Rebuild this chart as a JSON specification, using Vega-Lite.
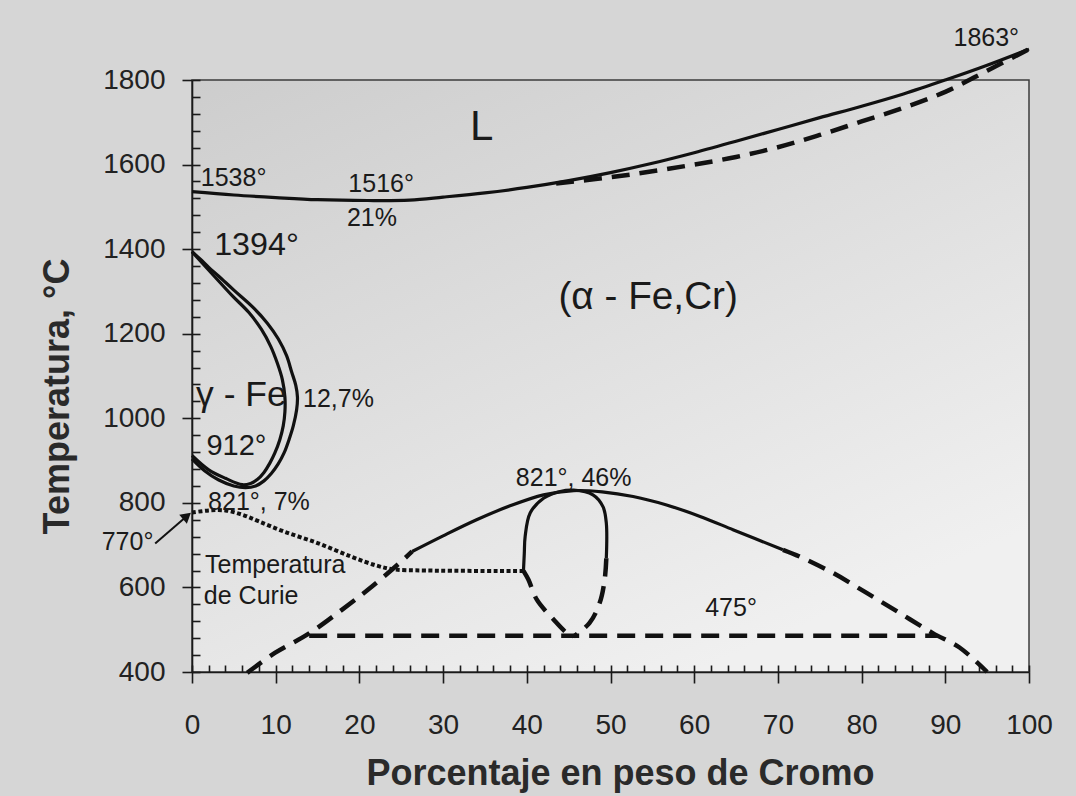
{
  "$schema": "https://vega.github.io/schema/vega-lite/v6.json",
  "width": 837,
  "height": 592,
  "autosize": {"type": "none"},
  "padding": {"left": 192, "top": 80, "right": 47, "bottom": 124},
  "background": "#d6d6d6",
  "config": {
    "font": "Liberation Sans",
    "view": {
      "stroke": "#3c3c3c",
      "strokeWidth": 1.5,
      "fill": {"gradient": "linear", "x1": 0, "y1": 0, "x2": 0.6, "y2": 1,
        "stops": [{"offset": 0, "color": "#cdcdcd"}, {"offset": 1, "color": "#f0f0f0"}]}
    },
    "axis": {"grid": false, "tickColor": "#1a1a1a", "tickWidth": 1.6, "domainColor": "#1a1a1a", "domainWidth": 1.6, "labelColor": "#222", "titleColor": "#2a2a2a"}
  },
  "datasets": {
    "curves": [
      {"c": "liq", "s": "solid", "o": 0, "x": 0, "t": 1536},
      {"c": "liq", "s": "solid", "o": 1, "x": 5, "t": 1528},
      {"c": "liq", "s": "solid", "o": 2, "x": 10, "t": 1522},
      {"c": "liq", "s": "solid", "o": 3, "x": 15, "t": 1517},
      {"c": "liq", "s": "solid", "o": 4, "x": 21, "t": 1515},
      {"c": "liq", "s": "solid", "o": 5, "x": 26, "t": 1516},
      {"c": "liq", "s": "solid", "o": 6, "x": 30, "t": 1523},
      {"c": "liq", "s": "solid", "o": 7, "x": 35, "t": 1533},
      {"c": "liq", "s": "solid", "o": 8, "x": 40, "t": 1546},
      {"c": "liq", "s": "solid", "o": 9, "x": 45, "t": 1562},
      {"c": "liq", "s": "solid", "o": 10, "x": 50, "t": 1581},
      {"c": "liq", "s": "solid", "o": 11, "x": 55, "t": 1603},
      {"c": "liq", "s": "solid", "o": 12, "x": 60, "t": 1628},
      {"c": "liq", "s": "solid", "o": 13, "x": 65, "t": 1655},
      {"c": "liq", "s": "solid", "o": 14, "x": 70, "t": 1683},
      {"c": "liq", "s": "solid", "o": 15, "x": 75, "t": 1711},
      {"c": "liq", "s": "solid", "o": 16, "x": 80, "t": 1738},
      {"c": "liq", "s": "solid", "o": 17, "x": 85, "t": 1767},
      {"c": "liq", "s": "solid", "o": 18, "x": 90, "t": 1800},
      {"c": "liq", "s": "solid", "o": 19, "x": 95, "t": 1835},
      {"c": "liq", "s": "solid", "o": 20, "x": 100, "t": 1873},

      {"c": "gOut", "s": "solid", "o": 0, "x": 0, "t": 1394},
      {"c": "gOut", "s": "solid", "o": 1, "x": 1, "t": 1376},
      {"c": "gOut", "s": "solid", "o": 2, "x": 2, "t": 1357},
      {"c": "gOut", "s": "solid", "o": 3, "x": 3.2, "t": 1336},
      {"c": "gOut", "s": "solid", "o": 4, "x": 5, "t": 1303},
      {"c": "gOut", "s": "solid", "o": 5, "x": 7.2, "t": 1264},
      {"c": "gOut", "s": "solid", "o": 6, "x": 9, "t": 1225},
      {"c": "gOut", "s": "solid", "o": 7, "x": 10.3, "t": 1188},
      {"c": "gOut", "s": "solid", "o": 8, "x": 11.3, "t": 1148},
      {"c": "gOut", "s": "solid", "o": 9, "x": 11.9, "t": 1110},
      {"c": "gOut", "s": "solid", "o": 10, "x": 12.4, "t": 1078},
      {"c": "gOut", "s": "solid", "o": 11, "x": 12.6, "t": 1050},
      {"c": "gOut", "s": "solid", "o": 12, "x": 12.5, "t": 1020},
      {"c": "gOut", "s": "solid", "o": 13, "x": 12.1, "t": 982},
      {"c": "gOut", "s": "solid", "o": 14, "x": 11.6, "t": 950},
      {"c": "gOut", "s": "solid", "o": 15, "x": 11.0, "t": 918},
      {"c": "gOut", "s": "solid", "o": 16, "x": 10.3, "t": 892},
      {"c": "gOut", "s": "solid", "o": 17, "x": 9.5, "t": 870},
      {"c": "gOut", "s": "solid", "o": 18, "x": 8.6, "t": 852},
      {"c": "gOut", "s": "solid", "o": 19, "x": 7.6, "t": 840},
      {"c": "gOut", "s": "solid", "o": 20, "x": 6.4, "t": 836},
      {"c": "gOut", "s": "solid", "o": 21, "x": 5, "t": 840},
      {"c": "gOut", "s": "solid", "o": 22, "x": 3.2, "t": 854},
      {"c": "gOut", "s": "solid", "o": 23, "x": 1.5, "t": 876},
      {"c": "gOut", "s": "solid", "o": 24, "x": 0, "t": 904},

      {"c": "gIn", "s": "solid", "o": 0, "x": 0, "t": 1394},
      {"c": "gIn", "s": "solid", "o": 1, "x": 1, "t": 1372},
      {"c": "gIn", "s": "solid", "o": 2, "x": 2.8, "t": 1333},
      {"c": "gIn", "s": "solid", "o": 3, "x": 4.8, "t": 1290},
      {"c": "gIn", "s": "solid", "o": 4, "x": 6.8, "t": 1250},
      {"c": "gIn", "s": "solid", "o": 5, "x": 8.3, "t": 1210},
      {"c": "gIn", "s": "solid", "o": 6, "x": 9.4, "t": 1170},
      {"c": "gIn", "s": "solid", "o": 7, "x": 10.2, "t": 1130},
      {"c": "gIn", "s": "solid", "o": 8, "x": 10.8, "t": 1091},
      {"c": "gIn", "s": "solid", "o": 9, "x": 11.1, "t": 1050},
      {"c": "gIn", "s": "solid", "o": 10, "x": 11.1, "t": 1015},
      {"c": "gIn", "s": "solid", "o": 11, "x": 10.9, "t": 982},
      {"c": "gIn", "s": "solid", "o": 12, "x": 10.5, "t": 950},
      {"c": "gIn", "s": "solid", "o": 13, "x": 9.9, "t": 918},
      {"c": "gIn", "s": "solid", "o": 14, "x": 9.3, "t": 894},
      {"c": "gIn", "s": "solid", "o": 15, "x": 8.6, "t": 872},
      {"c": "gIn", "s": "solid", "o": 16, "x": 7.8, "t": 855},
      {"c": "gIn", "s": "solid", "o": 17, "x": 7, "t": 846},
      {"c": "gIn", "s": "solid", "o": 18, "x": 6, "t": 843},
      {"c": "gIn", "s": "solid", "o": 19, "x": 4, "t": 858},
      {"c": "gIn", "s": "solid", "o": 20, "x": 2, "t": 878},
      {"c": "gIn", "s": "solid", "o": 21, "x": 0, "t": 912},

      {"c": "sigS", "s": "solid", "o": 0, "x": 26.3, "t": 685},
      {"c": "sigS", "s": "solid", "o": 1, "x": 30, "t": 722},
      {"c": "sigS", "s": "solid", "o": 2, "x": 34, "t": 760},
      {"c": "sigS", "s": "solid", "o": 3, "x": 38, "t": 793},
      {"c": "sigS", "s": "solid", "o": 4, "x": 42, "t": 819},
      {"c": "sigS", "s": "solid", "o": 5, "x": 45.6, "t": 829},
      {"c": "sigS", "s": "solid", "o": 6, "x": 49, "t": 826},
      {"c": "sigS", "s": "solid", "o": 7, "x": 52.7, "t": 815},
      {"c": "sigS", "s": "solid", "o": 8, "x": 56.7, "t": 795},
      {"c": "sigS", "s": "solid", "o": 9, "x": 60.7, "t": 768},
      {"c": "sigS", "s": "solid", "o": 10, "x": 64.7, "t": 736},
      {"c": "sigS", "s": "solid", "o": 11, "x": 70.6, "t": 689},

      {"c": "loopS", "s": "solid", "o": 0, "x": 39.6, "t": 639},
      {"c": "loopS", "s": "solid", "o": 1, "x": 39.7, "t": 680},
      {"c": "loopS", "s": "solid", "o": 2, "x": 39.8, "t": 720},
      {"c": "loopS", "s": "solid", "o": 3, "x": 40.4, "t": 776},
      {"c": "loopS", "s": "solid", "o": 4, "x": 42, "t": 811},
      {"c": "loopS", "s": "solid", "o": 5, "x": 44, "t": 827},
      {"c": "loopS", "s": "solid", "o": 6, "x": 45.6, "t": 830},
      {"c": "loopS", "s": "solid", "o": 7, "x": 47.9, "t": 819},
      {"c": "loopS", "s": "solid", "o": 8, "x": 49.1, "t": 791},
      {"c": "loopS", "s": "solid", "o": 9, "x": 49.5, "t": 752},
      {"c": "loopS", "s": "solid", "o": 10, "x": 49.5, "t": 669},

      {"c": "sol", "s": "dashed", "o": 0, "x": 43.5, "t": 1555},
      {"c": "sol", "s": "dashed", "o": 1, "x": 50, "t": 1570},
      {"c": "sol", "s": "dashed", "o": 2, "x": 55, "t": 1584},
      {"c": "sol", "s": "dashed", "o": 3, "x": 60, "t": 1600},
      {"c": "sol", "s": "dashed", "o": 4, "x": 65, "t": 1618},
      {"c": "sol", "s": "dashed", "o": 5, "x": 70, "t": 1641},
      {"c": "sol", "s": "dashed", "o": 6, "x": 75, "t": 1670},
      {"c": "sol", "s": "dashed", "o": 7, "x": 80, "t": 1702},
      {"c": "sol", "s": "dashed", "o": 8, "x": 85, "t": 1734},
      {"c": "sol", "s": "dashed", "o": 9, "x": 90, "t": 1772},
      {"c": "sol", "s": "dashed", "o": 10, "x": 95, "t": 1822},
      {"c": "sol", "s": "dashed", "o": 11, "x": 100, "t": 1873},

      {"c": "sigL", "s": "dashed", "o": 0, "x": 6.6, "t": 398},
      {"c": "sigL", "s": "dashed", "o": 1, "x": 9.9, "t": 445},
      {"c": "sigL", "s": "dashed", "o": 2, "x": 13.9, "t": 490},
      {"c": "sigL", "s": "dashed", "o": 3, "x": 17.9, "t": 547},
      {"c": "sigL", "s": "dashed", "o": 4, "x": 21.5, "t": 602},
      {"c": "sigL", "s": "dashed", "o": 5, "x": 25.1, "t": 663},
      {"c": "sigL", "s": "dashed", "o": 6, "x": 26.3, "t": 685},

      {"c": "sigR", "s": "dashed", "o": 0, "x": 70.6, "t": 689},
      {"c": "sigR", "s": "dashed", "o": 1, "x": 72.6, "t": 673},
      {"c": "sigR", "s": "dashed", "o": 2, "x": 76.6, "t": 634},
      {"c": "sigR", "s": "dashed", "o": 3, "x": 80.6, "t": 587},
      {"c": "sigR", "s": "dashed", "o": 4, "x": 84.6, "t": 539},
      {"c": "sigR", "s": "dashed", "o": 5, "x": 88.5, "t": 492},
      {"c": "sigR", "s": "dashed", "o": 6, "x": 91.7, "t": 458},
      {"c": "sigR", "s": "dashed", "o": 7, "x": 95, "t": 400},

      {"c": "loopR", "s": "dashed", "o": 0, "x": 49.5, "t": 669},
      {"c": "loopR", "s": "dashed", "o": 1, "x": 49.3, "t": 618},
      {"c": "loopR", "s": "dashed", "o": 2, "x": 48.7, "t": 563},
      {"c": "loopR", "s": "dashed", "o": 3, "x": 47.5, "t": 516},
      {"c": "loopR", "s": "dashed", "o": 4, "x": 45.6, "t": 484},

      {"c": "loopL", "s": "dashed", "o": 0, "x": 39.6, "t": 639},
      {"c": "loopL", "s": "dashed", "o": 1, "x": 40.2, "t": 618},
      {"c": "loopL", "s": "dashed", "o": 2, "x": 41.2, "t": 571},
      {"c": "loopL", "s": "dashed", "o": 3, "x": 43.2, "t": 524},
      {"c": "loopL", "s": "dashed", "o": 4, "x": 44.8, "t": 492},
      {"c": "loopL", "s": "dashed", "o": 5, "x": 45.6, "t": 484},

      {"c": "l475", "s": "dashed", "o": 0, "x": 14, "t": 486},
      {"c": "l475", "s": "dashed", "o": 1, "x": 89, "t": 486},

      {"c": "curie", "s": "dotted", "o": 0, "x": 0, "t": 777},
      {"c": "curie", "s": "dotted", "o": 1, "x": 2, "t": 782},
      {"c": "curie", "s": "dotted", "o": 2, "x": 4, "t": 782},
      {"c": "curie", "s": "dotted", "o": 3, "x": 6, "t": 772},
      {"c": "curie", "s": "dotted", "o": 4, "x": 8, "t": 756},
      {"c": "curie", "s": "dotted", "o": 5, "x": 11, "t": 732},
      {"c": "curie", "s": "dotted", "o": 6, "x": 15, "t": 705},
      {"c": "curie", "s": "dotted", "o": 7, "x": 19, "t": 673},
      {"c": "curie", "s": "dotted", "o": 8, "x": 22, "t": 652},
      {"c": "curie", "s": "dotted", "o": 9, "x": 24, "t": 643},
      {"c": "curie", "s": "dotted", "o": 10, "x": 28, "t": 640},
      {"c": "curie", "s": "dotted", "o": 11, "x": 39.6, "t": 639}
    ],
    "arrow": [{"x": -4.4, "t": 704, "x2": -0.6, "t2": 769}],
    "notes": [
      {"txt": "1538°", "x": 4.97, "t": 1569},
      {"txt": "1516°", "x": 22.6, "t": 1554},
      {"txt": "21%", "x": 21.5, "t": 1474},
      {"txt": "12,7%", "x": 17.5, "t": 1045},
      {"txt": "821°, 7%", "x": 8.0, "t": 803},
      {"txt": "770°", "x": -7.7, "t": 708},
      {"txt": "Temperatura", "x": 9.95, "t": 654},
      {"txt": "de Curie", "x": 7.06, "t": 580},
      {"txt": "821°, 46%", "x": 45.6, "t": 859},
      {"txt": "475°", "x": 64.4, "t": 551},
      {"txt": "1863°", "x": 94.9, "t": 1900}
    ],
    "phases": [
      {"txt": "L", "x": 34.6, "t": 1689},
      {"txt": "(α - Fe,Cr)", "x": 54.5, "t": 1288},
      {"txt": "γ - Fe", "x": 5.9, "t": 1055},
      {"txt": "1394°", "x": 7.7, "t": 1410},
      {"txt": "912°", "x": 5.3, "t": 935}
    ]
  },
  "layer": [
    {
      "data": {"name": "curves"},
      "transform": [{"filter": "datum.s === 'solid'"}],
      "mark": {"type": "line", "clip": false, "color": "#111", "strokeWidth": 3.2, "interpolate": "catmull-rom"},
      "encoding": {
        "x": {"field": "x", "type": "quantitative",
          "scale": {"domain": [0, 100], "nice": false, "zero": false},
          "axis": {"orient": "bottom", "values": [0, 10, 20, 30, 40, 50, 60, 70, 80, 90, 100],
            "tickSize": 11, "labelFontSize": 28, "labelPadding": 50, "labelBaseline": "alphabetic", "labelDx": 8,
            "labelFlush": false, "labelOverlap": false, "format": "d",
            "title": "Porcentaje en peso de Cromo", "titleFontSize": 36, "titleFontWeight": "bold",
            "titleX": 428, "titleY": 112, "titleBaseline": "alphabetic", "titleAlign": "center"}},
        "y": {"field": "t", "type": "quantitative",
          "scale": {"domain": [400, 1800], "nice": false, "zero": false},
          "axis": {"orient": "left", "values": [400, 600, 800, 1000, 1200, 1400, 1600, 1800],
            "tickSize": 10, "labelFontSize": 28, "labelPadding": 17, "labelBaseline": "middle", "labelDy": 2,
            "labelFlush": false, "labelOverlap": false, "format": "d",
            "title": "Temperatura, °C", "titleFontSize": 36, "titleFontWeight": "bold",
            "titleX": -124, "titleY": 316, "titleAngle": 270, "titleBaseline": "alphabetic", "titleAlign": "center"}},
        "detail": {"field": "c"},
        "order": {"field": "o"}
      }
    },
    {
      "data": {"name": "curves"},
      "transform": [{"filter": "datum.s === 'dashed'"}],
      "mark": {"type": "line", "clip": false, "color": "#111", "strokeWidth": 4.5, "strokeDash": [18, 10], "strokeCap": "butt", "interpolate": "catmull-rom"},
      "encoding": {
        "x": {"field": "x", "type": "quantitative",
          "axis": {"orient": "top", "offset": -592, "values": [0, 2, 4, 6, 8, 10, 12, 14, 16, 18, 20, 22, 24, 26, 28, 30, 32, 34, 36, 38, 40, 42, 44, 46, 48, 50, 52, 54, 56, 58, 60, 62, 64, 66, 68, 70, 72, 74, 76, 78, 80, 82, 84, 86, 88, 90, 92, 94, 96, 98, 100],
            "tickSize": 7, "labels": false, "domain": false, "title": null}},
        "y": {"field": "t", "type": "quantitative",
          "axis": {"orient": "right", "offset": -837, "values": [400, 440, 480, 520, 560, 600, 640, 680, 720, 760, 800, 840, 880, 920, 960, 1000, 1040, 1080, 1120, 1160, 1200, 1240, 1280, 1320, 1360, 1400, 1440, 1480, 1520, 1560, 1600, 1640, 1680, 1720, 1760, 1800],
            "tickSize": 8, "labels": false, "domain": false, "title": null}},
        "detail": {"field": "c"},
        "order": {"field": "o"}
      }
    },
    {
      "data": {"name": "curves"},
      "transform": [{"filter": "datum.s === 'dotted'"}],
      "mark": {"type": "line", "clip": false, "color": "#111", "strokeWidth": 4, "strokeDash": [4, 2.5], "strokeCap": "butt", "interpolate": "catmull-rom"},
      "encoding": {
        "x": {"field": "x", "type": "quantitative", "axis": null},
        "y": {"field": "t", "type": "quantitative", "axis": null},
        "detail": {"field": "c"},
        "order": {"field": "o"}
      }
    },
    {
      "data": {"name": "arrow"},
      "mark": {"type": "rule", "clip": false, "color": "#111", "strokeWidth": 2},
      "encoding": {
        "x": {"field": "x", "type": "quantitative", "axis": null},
        "y": {"field": "t", "type": "quantitative", "axis": null},
        "x2": {"field": "x2"},
        "y2": {"field": "t2"}
      }
    },
    {
      "data": {"name": "arrow"},
      "mark": {"type": "point", "clip": false, "shape": "triangle-right", "filled": true, "color": "#111", "size": 140, "angle": -40, "opacity": 1},
      "encoding": {
        "x": {"field": "x2", "type": "quantitative", "axis": null},
        "y": {"field": "t2", "type": "quantitative", "axis": null}
      }
    },
    {
      "data": {"name": "notes"},
      "mark": {"type": "text", "clip": false, "fontSize": 25, "color": "#1a1a1a", "align": "center", "baseline": "middle"},
      "encoding": {
        "x": {"field": "x", "type": "quantitative", "axis": null},
        "y": {"field": "t", "type": "quantitative", "axis": null},
        "text": {"field": "txt"}
      }
    },
    {
      "data": {"name": "phases"},
      "mark": {"type": "text", "clip": false, "color": "#1a1a1a", "align": "center", "baseline": "middle"},
      "encoding": {
        "x": {"field": "x", "type": "quantitative", "axis": null},
        "y": {"field": "t", "type": "quantitative", "axis": null},
        "text": {"field": "txt"},
        "size": {"field": "txt", "type": "nominal", "legend": null,
          "scale": {"domain": ["L", "(α - Fe,Cr)", "γ - Fe", "1394°", "912°"], "range": [42, 29, 28, 31, 31]}}
      }
    }
  ],
  "resolve": {"axis": {"x": "independent", "y": "independent"}}
}
